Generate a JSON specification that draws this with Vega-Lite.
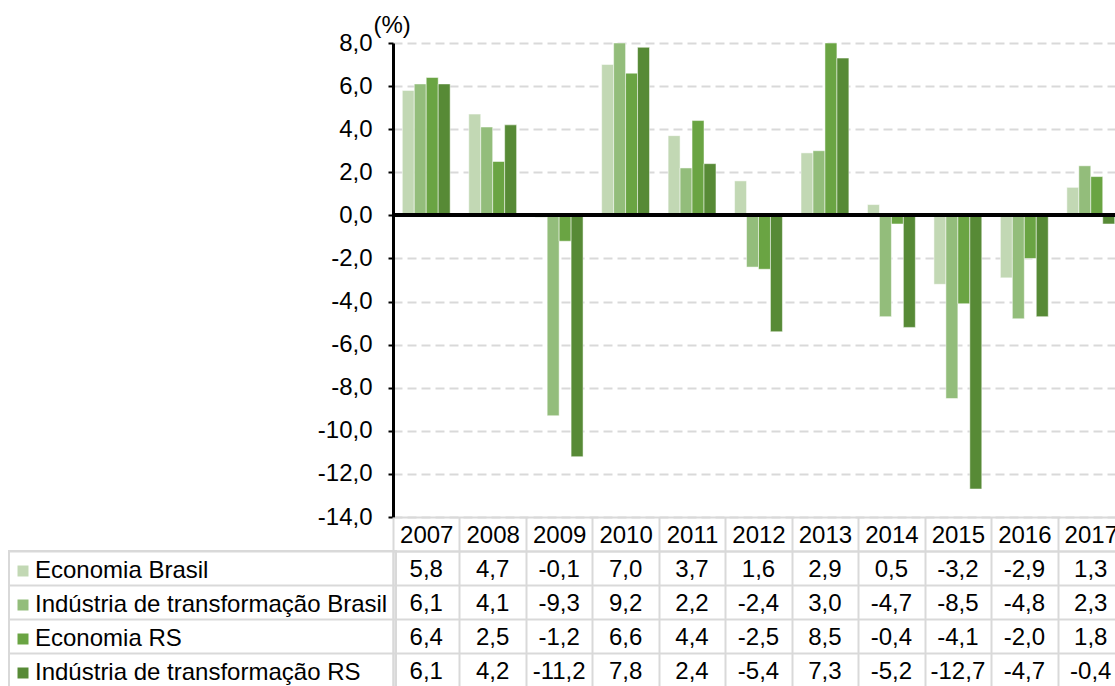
{
  "$schema": "https://vega.github.io/schema/vega-lite/v6.json",
  "padding": {"left": 8, "top": 13, "right": 0, "bottom": 0},
  "autosize": {"type": "pad"},
  "config": {
    "font": "Liberation Sans",
    "locale": {"number": {"decimal": ",", "thousands": ".", "grouping": [3], "currency": ["", ""], "minus": "-"}},
    "view": {"stroke": null},
    "legend": {"strokeWidth": 2}
  },
  "datasets": {
    "d": [
      {"year": "2007", "series": "Economia Brasil", "value": 5.8},
      {"year": "2008", "series": "Economia Brasil", "value": 4.7},
      {"year": "2009", "series": "Economia Brasil", "value": -0.1},
      {"year": "2010", "series": "Economia Brasil", "value": 7.0},
      {"year": "2011", "series": "Economia Brasil", "value": 3.7},
      {"year": "2012", "series": "Economia Brasil", "value": 1.6},
      {"year": "2013", "series": "Economia Brasil", "value": 2.9},
      {"year": "2014", "series": "Economia Brasil", "value": 0.5},
      {"year": "2015", "series": "Economia Brasil", "value": -3.2},
      {"year": "2016", "series": "Economia Brasil", "value": -2.9},
      {"year": "2017", "series": "Economia Brasil", "value": 1.3},
      {"year": "2007", "series": "Indústria de transformação Brasil", "value": 6.1},
      {"year": "2008", "series": "Indústria de transformação Brasil", "value": 4.1},
      {"year": "2009", "series": "Indústria de transformação Brasil", "value": -9.3},
      {"year": "2010", "series": "Indústria de transformação Brasil", "value": 9.2},
      {"year": "2011", "series": "Indústria de transformação Brasil", "value": 2.2},
      {"year": "2012", "series": "Indústria de transformação Brasil", "value": -2.4},
      {"year": "2013", "series": "Indústria de transformação Brasil", "value": 3.0},
      {"year": "2014", "series": "Indústria de transformação Brasil", "value": -4.7},
      {"year": "2015", "series": "Indústria de transformação Brasil", "value": -8.5},
      {"year": "2016", "series": "Indústria de transformação Brasil", "value": -4.8},
      {"year": "2017", "series": "Indústria de transformação Brasil", "value": 2.3},
      {"year": "2007", "series": "Economia RS", "value": 6.4},
      {"year": "2008", "series": "Economia RS", "value": 2.5},
      {"year": "2009", "series": "Economia RS", "value": -1.2},
      {"year": "2010", "series": "Economia RS", "value": 6.6},
      {"year": "2011", "series": "Economia RS", "value": 4.4},
      {"year": "2012", "series": "Economia RS", "value": -2.5},
      {"year": "2013", "series": "Economia RS", "value": 8.5},
      {"year": "2014", "series": "Economia RS", "value": -0.4},
      {"year": "2015", "series": "Economia RS", "value": -4.1},
      {"year": "2016", "series": "Economia RS", "value": -2.0},
      {"year": "2017", "series": "Economia RS", "value": 1.8},
      {"year": "2007", "series": "Indústria de transformação RS", "value": 6.1},
      {"year": "2008", "series": "Indústria de transformação RS", "value": 4.2},
      {"year": "2009", "series": "Indústria de transformação RS", "value": -11.2},
      {"year": "2010", "series": "Indústria de transformação RS", "value": 7.8},
      {"year": "2011", "series": "Indústria de transformação RS", "value": 2.4},
      {"year": "2012", "series": "Indústria de transformação RS", "value": -5.4},
      {"year": "2013", "series": "Indústria de transformação RS", "value": 7.3},
      {"year": "2014", "series": "Indústria de transformação RS", "value": -5.2},
      {"year": "2015", "series": "Indústria de transformação RS", "value": -12.7},
      {"year": "2016", "series": "Indústria de transformação RS", "value": -4.7},
      {"year": "2017", "series": "Indústria de transformação RS", "value": -0.4}
    ]
  },
  "spacing": 34,
  "bounds": "flush",
  "resolve": {"scale": {"x": "independent", "y": "independent"}},
  "vconcat": [
    {
      "width": 731,
      "height": 474,
      "data": {"name": "d"},
      "layer": [
        {
          "mark": {"type": "bar", "stroke": "white", "strokeWidth": 0.5},
          "encoding": {
            "x": {"field": "year", "type": "nominal",
              "scale": {"paddingInner": 0.28, "paddingOuter": 0.14},
              "axis": {"orient": "bottom", "labels": false, "ticks": false, "title": null, "domainColor": "#d9d9d9", "domainWidth": 2}},
            "xOffset": {"field": "series", "type": "nominal",
              "sort": ["Economia Brasil", "Indústria de transformação Brasil", "Economia RS", "Indústria de transformação RS"],
              "scale": {"paddingInner": 0, "paddingOuter": 0}},
            "y": {"field": "value", "type": "quantitative",
              "scale": {"domain": [-14, 8], "clamp": true, "nice": false, "zero": false},
              "axis": {"values": [-14, -12, -10, -8, -6, -4, -2, 0, 2, 4, 6, 8], "format": ".1f",
                "title": "(%)", "titleAngle": 0, "titleAlign": "left", "titleBaseline": "alphabetic",
                "titleX": -20, "titleY": -11, "titleFontSize": 24, "titleFontWeight": "normal", "titleColor": "black",
                "labelFontSize": 24, "labelColor": "black", "labelPadding": 16,
                "domainColor": "black", "domainWidth": 3, "tickColor": "black", "tickWidth": 2, "tickSize": 5,
                "grid": true, "gridColor": "#d9d9d9", "gridDash": [9, 5], "gridWidth": 2}},
            "color": {"field": "series", "type": "nominal",
              "scale": {"domain": ["Economia Brasil", "Indústria de transformação Brasil", "Economia RS", "Indústria de transformação RS"],
                "range": ["#c2d8b4", "#93bd7b", "#6aa443", "#578a36"]},
              "legend": {"orient": "none", "legendX": -384, "legendY": 508, "title": null, "direction": "vertical",
                "symbolType": "square", "symbolSize": 121, "symbolStrokeWidth": 0, "symbolOffset": -6,
                "labelFontSize": 24, "labelColor": "black", "labelOffset": 0, "labelLimit": 600,
                "rowPadding": 10, "padding": 8, "strokeColor": "#d9d9d9"}}
          }
        },
        {
          "mark": {"type": "rule", "color": "black", "strokeWidth": 3},
          "encoding": {"y": {"datum": 0}}
        }
      ]
    },
    {
      "width": 731,
      "height": 136,
      "data": {"name": "d"},
      "mark": {"type": "text", "fontSize": 24, "color": "black", "dy": 2},
      "encoding": {
        "x": {"field": "year", "type": "nominal",
          "scale": {"paddingInner": 0, "paddingOuter": 0},
          "axis": {"orient": "top", "title": null, "labelAngle": 0, "labelFontSize": 24, "labelColor": "black",
            "labelPadding": -30, "tickSize": 34, "tickColor": "#d9d9d9", "tickWidth": 2, "tickBand": "extent",
            "domainColor": "#d9d9d9", "domainWidth": 2, "grid": true, "gridColor": "#d9d9d9", "gridWidth": 2}},
        "y": {"field": "series", "type": "nominal",
          "sort": ["Economia Brasil", "Indústria de transformação Brasil", "Economia RS", "Indústria de transformação RS"],
          "scale": {"paddingInner": 0, "paddingOuter": 0},
          "axis": {"title": null, "labels": false, "tickSize": 384, "tickColor": "#d9d9d9", "tickWidth": 2, "tickBand": "extent",
            "domainColor": "#d9d9d9", "domainWidth": 2, "grid": true, "gridColor": "#d9d9d9", "gridWidth": 2}},
        "text": {"field": "value", "type": "quantitative", "format": ".1f"}
      }
    }
  ]
}
